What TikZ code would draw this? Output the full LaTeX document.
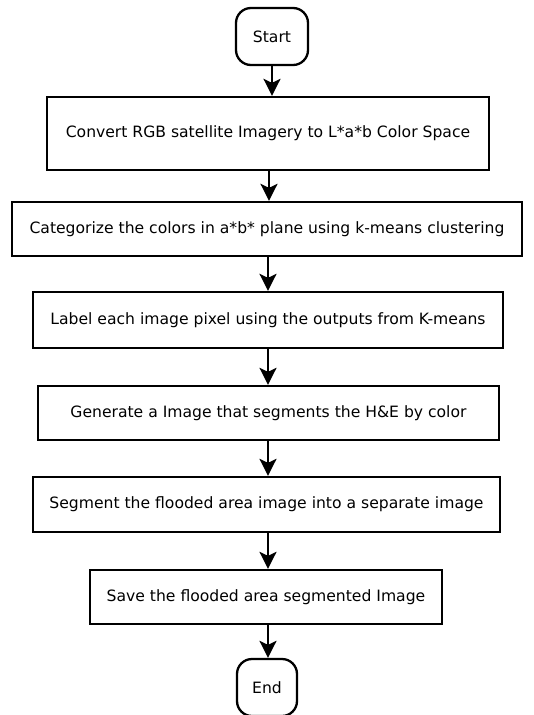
\documentclass[tikz,border=0pt]{standalone}
\usepackage{fontspec}
\setmainfont{DejaVu Sans}
\usetikzlibrary{arrows.meta}
\begin{document}
\begin{tikzpicture}[x=1pt,y=-1pt,
  stepbox/.style={draw=black,line width=2.3pt,fill=white,minimum width=#1,inner sep=0pt,font=\fontsize{15.6}{18}\selectfont},
  term/.style={draw=black,line width=2.3pt,rounded corners=15pt,minimum width=72pt,minimum height=57pt,inner sep=0pt,font=\fontsize{15.6}{18}\selectfont},
  arr/.style={line width=2.3pt,-{Stealth[length=17pt,width=17pt,inset=4pt]}}]
\useasboundingbox (0,0) rectangle (533,715);
\begin{scope}
\clip (0,0) rectangle (533,715);
\node[term] (start) at (272,36.5) {Start};
\node[stepbox=442pt,minimum height=73pt] (b1) at (268,133.5) {Convert RGB satellite Imagery to L*a*b Color Space};
\node[stepbox=510pt,minimum height=54pt] (b2) at (267,229) {Categorize the colors in a*b* plane using k-means clustering};
\node[stepbox=470pt,minimum height=56pt] (b3) at (268,320) {Label each image pixel using the outputs from K-means};
\node[stepbox=461pt,minimum height=54pt] (b4) at (268.5,413) {Generate a Image that segments the H\&E by color};
\node[stepbox=467pt,minimum height=55pt] (b5) at (266.5,504.5) {Segment the flooded area image into a separate image};
\node[stepbox=352pt,minimum height=54pt] (b6) at (266,597) {Save the flooded area segmented Image};
\node[term,minimum width=60pt] (end) at (267,687.5) {End};
\end{scope}
\draw[arr] (start.south) -- (start.south |- b1.north);
\draw[arr] ([xshift=1pt]b1.south) -- ([xshift=1pt]b1.south |- b2.north);
\draw[arr] ([xshift=1pt]b2.south) -- ([xshift=1pt]b2.south |- b3.north);
\draw[arr] (b3.south) -- (b3.south |- b4.north);
\draw[arr] ([xshift=-0.5pt]b4.south) -- ([xshift=-0.5pt]b4.south |- b5.north);
\draw[arr] ([xshift=1.5pt]b5.south) -- ([xshift=1.5pt]b5.south |- b6.north);
\draw[arr] ([xshift=2pt]b6.south) -- ([xshift=2pt]b6.south |- end.north);
\end{tikzpicture}
\end{document}
